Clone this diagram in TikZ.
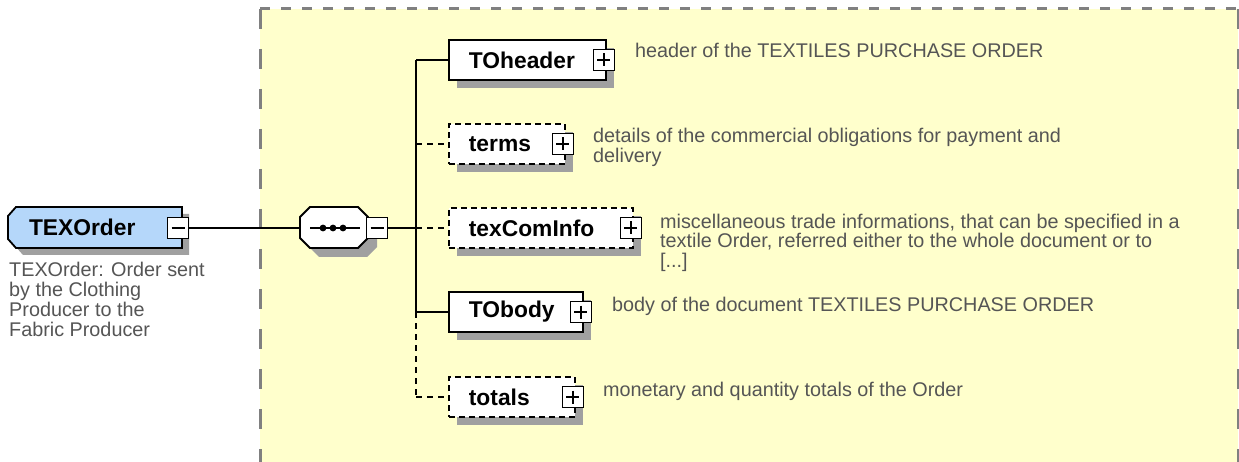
\documentclass[tikz,border=0pt]{standalone}
\usepackage{fontspec}
\setmainfont{Liberation Sans}
\usetikzlibrary{calc}
\definecolor{bgyellow}{RGB}{255,255,204}
\definecolor{bordergray}{RGB}{128,128,128}
\definecolor{shgray}{RGB}{160,160,160}
\definecolor{descgray}{RGB}{85,85,85}
\definecolor{rootblue}{RGB}{181,215,250}
\newcommand{\lblfont}{\fontsize{22.8}{24}\selectfont\bfseries}
\newcommand{\descfont}{\fontsize{19.8}{19.7}\selectfont}
\begin{document}
\begin{tikzpicture}[x=1pt,y=-1pt,
  shadowed/.style={preaction={fill=shgray,draw=none,transform canvas={shift={(8pt,-8pt)}}}},
  elem/.style={rectangle, draw=black, line width=1.8pt, fill=white, anchor=west,
    minimum height=40pt, inner xsep=20pt, inner ysep=0pt, align=left, font=\lblfont, shadowed},
  optelem/.style={elem, dash pattern=on 6pt off 4pt},
  togglebox/.style={rectangle, draw=black, line width=1.5pt, fill=white, minimum size=21pt, inner sep=0pt},
  plusbox/.style={togglebox, path picture={
      \draw[black,line width=1.5pt] ([xshift=4pt]path picture bounding box.west) -- ([xshift=-4pt]path picture bounding box.east)
        ([yshift=-4pt]path picture bounding box.north) -- ([yshift=4pt]path picture bounding box.south);}},
  minusbox/.style={togglebox, path picture={
      \draw[black,line width=1.5pt] ([xshift=4pt]path picture bounding box.west) -- ([xshift=-4pt]path picture bounding box.east);}},
  conn/.style={line width=1.8pt, black},
  optconn/.style={conn, dash pattern=on 6pt off 5pt},
  desc/.style={font=\descfont, text=descgray, inner sep=0pt, align=left, anchor=base west},
  outline/.style={line width=1.8pt, draw=black}
]
\useasboundingbox (0,0) rectangle (1239,462);
\clip (0,0) rectangle (1239,462);
\fill[white] (0,0) rectangle (1239,462);

% yellow content area
\fill[bgyellow] (260,9) rectangle (1238,475);
\draw[bordergray, line width=3pt, dash pattern=on 10pt off 11pt] (260,9) -- (1240,9);
\draw[bordergray, line width=3pt, dash pattern=on 20pt off 20pt] (260,9) -- (260,475);
\draw[bordergray, line width=3pt, dash pattern=on 20pt off 20pt] (1238.5,9) -- (1238.5,475);

% root element TEXOrder
\fill[shgray] (23,214) -- (189,214) -- (189,255) -- (23,255) -- (15,246) -- (15,223) -- cycle;
\draw[outline, fill=rootblue] (16,207) -- (182,207) -- (182,248) -- (16,248) -- (8,239) -- (8,216) -- cycle;
\node[rectangle, minimum width=174pt, minimum height=41pt, inner xsep=21pt, inner ysep=0pt,
      text width=132pt, align=left, font=\lblfont] (texo) at (95,227.5) {TEXOrder};
\node[minusbox] (texom) at (178,228) {};
\node[desc] (texod) at (9,336) {TEXOrder: Order sent\\by the Clothing\\Producer to the\\Fabric Producer};

% sequence compositor
\fill[shgray] (319,216) -- (367,216) -- (377,226) -- (377,247) -- (367,257) -- (319,257) -- (309,247) -- (309,226) -- cycle;
\draw[outline, fill=white] (310,207) -- (358,207) -- (368,217) -- (368,238) -- (358,248) -- (310,248) -- (300,238) -- (300,217) -- cycle;
\node[rectangle, minimum width=68pt, minimum height=41pt, inner sep=0pt] (seq) at (334,228) {};
\draw[line width=1.8pt] (310,228) -- (360,228);
\fill (323,228) circle (3.4) (333,228) circle (3.4) (343,228) circle (3.4);
\node[minusbox] (seqm) at (377,228) {};

\coordinate (bus) at (416,0);

% child elements
\node[elem, text width=117pt] (hdr) at (448,60) {TOheader};
\node[optelem, text width=76pt] (trm) at (448,144) {terms};
\node[optelem, text width=144pt] (tci) at (448,228) {texComInfo};
\node[elem, text width=94pt] (tob) at (448,312) {TObody};
\node[optelem, text width=86pt] (tot) at (448,397) {totals};

\node[plusbox] (hdrp) at ([xshift=-3pt]hdr.east) {};
\node[plusbox] (trmp) at ([xshift=-3pt]trm.east) {};
\node[plusbox] (tcip) at ([xshift=-3pt]tci.east) {};
\node[plusbox] (tobp) at ([xshift=-3pt]tob.east) {};
\node[plusbox] (totp) at ([xshift=-3pt]tot.east) {};

% connectors
\draw[conn] (texom.east) -- (seq.west);
\draw[conn] (seqm.east) -- (seqm.east -| bus);
\draw[conn] (bus |- hdr.west) -- (bus |- tob.west);
\draw[optconn] (bus |- tob.west) -- (bus |- tot.west);
\draw[conn] (bus |- hdr.west) -- (hdr.west);
\draw[optconn] (bus |- trm.west) -- (trm.west);
\draw[optconn] (bus |- tci.west) -- (tci.west);
\draw[conn] (bus |- tob.west) -- (tob.west);
\draw[optconn] (bus |- tot.west) -- (tot.west);

% descriptions
\node[desc] (hdrd) at (635,58) {header of the TEXTILES PURCHASE ORDER};
\node[desc] (trmd) at (593,162.5) {details of the commercial obligations for payment and\\delivery};
\node[desc] (tcid) at (660,267.5) {miscellaneous trade informations, that can be specified in a\\textile Order, referred either to the whole document or to\\{[...]}};
\node[desc] (tobd) at (612,311) {body of the document TEXTILES PURCHASE ORDER};
\node[desc] (totd) at (603,396) {monetary and quantity totals of the Order};
\end{tikzpicture}
\end{document}
